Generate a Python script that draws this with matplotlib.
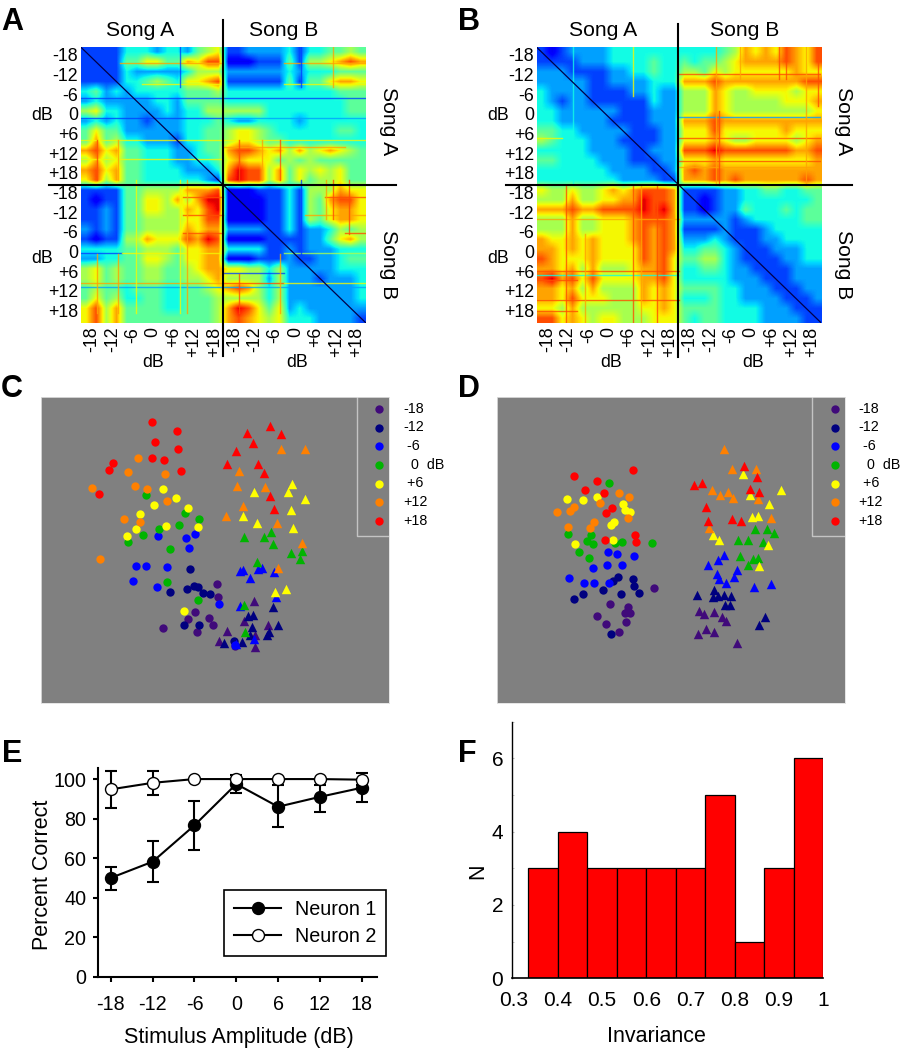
import numpy as np
import matplotlib
matplotlib.use('Agg')
from matplotlib import pyplot as plt
from matplotlib.lines import Line2D

plt.rcParams['font.family'] = ['Liberation Sans', 'DejaVu Sans']

W, H = 911, 1050

# similarity matrices, read by eye, one digit per cell (0 = low, 9 = high)
matrix_a = [
    '11113332332456' + '11222231334454',
    '11114466447688' + '00011141556787',
    '11113222223555' + '22222232333444',
    '11113345436678' + '11111141446776',
    '34232333334445' + '33333333333444',
    '23222223324444' + '33333333333344',
    '56332222323355' + '55553333333344',
    '23232212223334' + '32233332333333',
    '46442222223344' + '56654333333443',
    '47453322213344' + '56654433333333',
    '78674433322344' + '78876757567654',
    '57564433322334' + '67666454544444',
    '78674433332223' + '79885746565644',
    '68574433333321' + '89885746455644',
    '11114455557778' + '00011131555766',
    '10114466575799' + '00001131547886',
    '11214466557689' + '00001131546776',
    '11214455556688' + '00001131546776',
    '21214455557677' + '22221131223545',
    '10115576668798' + '00001111224675',
    '33334455546677' + '33331121222333',
    '22334466546677' + '00011121122344',
    '56454455445677' + '66553522222333',
    '56454455445567' + '55552522212223',
    '45443444334456' + '78753522222223',
    '46453344334445' + '55553522222223',
    '68574444334445' + '79864623222222',
    '68574444444445' + '78765633322221',
]
matrix_b = [
    '10122223333333' + '33334576768768',
    '11112223333433' + '43445677778768',
    '22211112233433' + '55465666666766',
    '22222112222333' + '77787777777788',
    '32222111122322' + '55576556666566',
    '32122111111322' + '55576555556667',
    '33222222111222' + '55576555555556',
    '33222221111222' + '77787777777777',
    '44332222211122' + '66686666667666',
    '54333222111122' + '66676556666567',
    '33333222211222' + '88898888888778',
    '44333322211122' + '66676666666667',
    '33333332222112' + '78787777777777',
    '33333333222211' + '77787877777787',
    '65565567678887' + '11112233443344',
    '55575566779887' + '11012233333334',
    '77787788889897' + '11012243334344',
    '55575566678887' + '22222123333344',
    '55575566678787' + '11112111233333',
    '76676766678787' + '22232111223333',
    '77676766668787' + '33443211122233',
    '87666766668786' + '44553211112233',
    '77675755567786' + '33443221111222',
    '89786866667786' + '33333222111222',
    '77675755557676' + '44443322211122',
    '77686665557676' + '33343322221112',
    '66575555556676' + '44443333222111',
    '88676566555666' + '43443333222211',
]

# thin streaks in the matrices: (position, start, stop, digit), in cells
a_rows = [
    (1.6, 3.8, 14, 7), (1.6, 20, 28, 7), (3.7, 6, 14, 6), (3.7, 20, 28, 6),
    (5.2, 0, 28, 1), (7.2, 0, 14, 1), (7.2, 14, 28, 2), (9.4, 0, 28, 6),
    (11.4, 0, 14, 6), (10.1, 14, 26, 7), (15.2, 10, 14, 8), (15.2, 24, 28, 8),
    (17.1, 10, 14, 8), (17.1, 22, 28, 7), (18.9, 10, 14, 8), (18.9, 26, 28, 8),
    (20.9, 0, 4, 1), (20.9, 4, 14, 6), (20.9, 20, 28, 5), (22.9, 14, 20, 1),
    (24.0, 0, 14, 7), (24.0, 14, 20, 8), (24.0, 20, 28, 6), (24.4, 0, 28, 2),
]
a_cols = [
    (1.6, 9.4, 13.5, 8), (1.6, 21, 27, 7), (3.6, 9.4, 13.5, 7), (3.6, 21, 27, 7),
    (5.4, 13.5, 27, 6), (9.7, 0, 4, 1), (9.7, 13.5, 27, 6), (10.4, 13.5, 27, 7),
    (24.8, 0, 4, 7), (24.8, 13.5, 17.5, 8), (24.1, 13.5, 17.5, 7), (26.4, 13.5, 19, 8),
    (21.6, 0, 4, 1), (21.6, 13.5, 21, 1), (15.5, 9.4, 13.5, 8), (15.5, 23, 27, 8),
    (17.8, 9.4, 13.5, 7), (19.6, 9.4, 13.5, 8), (19.6, 21, 27, 7),
]
b_rows = [
    (2.7, 14, 28, 8), (7.1, 14, 28, 2), (9.2, 14, 28, 8), (11.6, 14, 28, 8),
    (12.2, 14, 28, 7), (9.2, 0, 2.5, 6), (17.5, 0, 14, 7), (22.7, 0, 14, 8),
    (23.2, 0, 14, 3), (23.7, 0, 4, 8), (25.7, 0, 14, 8), (26.8, 0, 4, 8),
]
b_cols = [
    (2.85, 14, 28, 8), (4.75, 19, 28, 7), (9.45, 14, 28, 8), (9.45, 0, 5, 6),
    (11.8, 14, 28, 8), (10.3, 14, 28, 7), (17.7, 0, 14, 7), (18.0, 6.5, 14, 8),
    (23.9, 0, 3.2, 8), (24.6, 0, 3.2, 8), (26.5, 0, 14, 7), (27.7, 0, 6, 8),
    (20.0, 0, 3.2, 7), (3.6, 0, 14, 3),
]

amp_labels = ['-18', '-12', '-6', '0', '+6', '+12', '+18']

level_colors = ['#400a7a', '#00007f', '#0000ff', '#00b400', '#ffff00', '#ff8000', '#ff0000']
level_names = ['-18', '-12', ' -6', '  0  dB', ' +6', '+12', '+18']

# scatter panel C, one (x, y) list per level
c_circles = [
    [(561, 597), (565, 637), (494, 683), (474, 702), (536, 699), (549, 722), (500, 743), (400, 729), (616, 783)],
    [(480, 552), (470, 612), (492, 605), (505, 607), (520, 626), (539, 629), (419, 621), (461, 720), (506, 721), (612, 769)],
    [(383, 454), (469, 460), (495, 446), (476, 489), (319, 543), (347, 543), (411, 546), (308, 588), (380, 608), (568, 657), (616, 780)],
    [(347, 331), (464, 384), (508, 403), (448, 420), (388, 432), (338, 449), (293, 470), (421, 491), (411, 592), (504, 646)],
    [(400, 313), (437, 340), (371, 359), (330, 387), (475, 369), (407, 423), (503, 425), (317, 433), (292, 452), (461, 678)],
    [(323, 218), (293, 262), (405, 268), (187, 308), (314, 304), (351, 312), (410, 349), (281, 402), (331, 411), (209, 522)],
    [(365, 110), (442, 138), (374, 172), (443, 191), (365, 218), (402, 226), (249, 235), (238, 255), (452, 258), (208, 328)],
]
c_triangles = [
    [(672, 650), (641, 710), (713, 720), (592, 740), (567, 770), (675, 752), (676, 788)],
    [(728, 666), (654, 694), (670, 690), (665, 728), (744, 722), (717, 741), (710, 750), (660, 750), (582, 776), (635, 772)],
    [(630, 560), (640, 557), (683, 553), (697, 550), (733, 562), (659, 580), (737, 636), (630, 663), (673, 762), (617, 778)],
    [(642, 456), (703, 456), (724, 440), (730, 478), (782, 505), (817, 499), (810, 521), (681, 532), (643, 660), (645, 741)],
    [(786, 298), (773, 321), (671, 320), (825, 342), (783, 375), (638, 394), (680, 414), (789, 430), (735, 621), (768, 612)],
    [(752, 191), (825, 191), (627, 258), (622, 302), (706, 305), (640, 362), (587, 394), (742, 415), (817, 473), (743, 551)],
    [(719, 122), (652, 143), (754, 148), (668, 174), (618, 198), (591, 236), (685, 237), (701, 264), (720, 332), (731, 373)],
]
# scatter panel D
d_circles = [
    [(493, 610), (361, 658), (414, 666), (405, 685), (421, 686), (412, 683), (322, 695), (349, 718), (408, 712), (387, 741)],
    [(385, 576), (370, 589), (429, 582), (433, 603), (448, 624), (339, 616), (394, 629), (279, 627), (251, 643), (364, 748)],
    [(353, 501), (381, 507), (432, 512), (350, 540), (397, 540), (309, 550), (236, 581), (282, 594), (311, 594), (358, 596)],
    [(356, 294), (235, 448), (304, 449), (291, 468), (308, 478), (374, 473), (396, 471), (487, 474), (268, 501), (298, 520)],
    [(231, 342), (279, 346), (322, 335), (400, 358), (404, 376), (420, 380), (373, 410), (362, 420), (256, 477), (370, 465)],
    [(388, 323), (417, 337), (330, 353), (253, 365), (241, 379), (201, 382), (413, 400), (311, 411), (300, 430), (234, 426)],
    [(429, 255), (252, 273), (322, 287), (286, 315), (342, 325), (366, 369), (349, 384), (434, 451), (437, 471), (344, 465)],
]
d_triangles = [
    [(627, 680), (643, 688), (671, 683), (697, 698), (707, 710), (648, 733), (672, 741), (623, 748), (741, 776)],
    [(672, 615), (622, 630), (669, 638), (683, 634), (702, 630), (722, 634), (704, 660), (721, 662), (825, 698), (808, 720)],
    [(701, 510), (685, 525), (654, 541), (741, 556), (681, 569), (733, 578), (687, 583), (707, 595), (792, 607), (843, 598)],
    [(795, 431), (831, 432), (853, 444), (745, 466), (775, 465), (818, 472), (749, 514), (790, 523), (804, 520), (773, 541)],
    [(758, 268), (874, 315), (779, 330), (836, 356), (786, 397), (805, 393), (669, 449), (687, 464), (835, 480), (808, 545)],
    [(701, 192), (726, 252), (797, 252), (666, 316), (690, 331), (713, 321), (730, 339), (804, 342), (844, 398), (658, 430)],
    [(762, 242), (800, 277), (611, 301), (637, 294), (781, 313), (807, 322), (648, 367), (727, 402), (752, 407), (653, 409)],
]

# panel E
amplitude = [-18, -12, -6, 0, 6, 12, 18]
amp_ticks = ['-18', '-12', '-6', '0', '6', '12', '18']
neuron1 = [50, 58.2, 76.6, 97.5, 86, 91, 95.6]
neuron1_low = [43.8, 47.9, 64.2, 93, 75.5, 83.5, 88.5]
neuron1_high = [55.3, 68.5, 89, 100, 96.8, 97, 100]
neuron2 = [94.8, 98.1, 100, 100, 100, 100, 99.7]
neuron2_low = [85.5, 91.9, 100, 97, 100, 100, 97]
neuron2_high = [104.2, 104, 100, 102, 100, 100, 102.9]

# panel F
bin_edges = [0.3333, 0.4, 0.4667, 0.5333, 0.6, 0.6667, 0.7333, 0.8, 0.8667, 0.9333]
bin_counts = [3, 4, 3, 3, 3, 3, 5, 1, 3, 6]
bin_width = 0.0667
inv_ticks = [0.3, 0.4, 0.5, 0.6, 0.7, 0.8, 0.9, 1.0]
inv_labels = ['0.3', '0.4', '0.5', '0.6', '0.7', '0.8', '0.9', '1']


def add_ax(fig, x0, y0, x1, y1):
    # pixel box, y measured from the top of the image
    return fig.add_axes([x0 / W, 1 - y1 / H, (x1 - x0) / W, (y1 - y0) / H])


def px_text(fig, x, y, s, **kw):
    kw.setdefault('ha', 'center')
    kw.setdefault('va', 'center')
    fig.text(x / W, 1 - y / H, s, **kw)


def px_line(fig, xs, ys, **kw):
    fig.add_artist(Line2D([x / W for x in xs], [1 - y / H for y in ys],
                          color='k', lw=1.5, **kw))


def draw_matrix(fig, rows, row_streaks, col_streaks, x0, x1, cross_x, top_y, bottom_y,
                left_x, right_x, title_x, db_x):
    ax = add_ax(fig, x0, 47.3, x1, 322.7)
    data = np.array([[int(c) for c in r] for r in rows])
    im = ax.imshow(data, cmap='jet', vmin=-1.1, vmax=9.9, aspect='auto',
                   interpolation='bilinear', extent=(0, 28, 28, 0))
    for pos, start, stop, v in row_streaks:
        ax.plot([start, stop], [pos, pos], color=im.cmap(im.norm(v)), lw=1.0, alpha=0.8)
    for pos, start, stop, v in col_streaks:
        ax.plot([pos, pos], [start, stop], color=im.cmap(im.norm(v)), lw=1.0, alpha=0.8)
    ax.plot([0, 28], [0, 28], color='#00004a', lw=0.9)
    ax.set_xlim(0, 28)
    ax.set_ylim(28, 0)
    for s in ax.spines.values():
        s.set_visible(False)
    ax.set_yticks([0.75 + 2 * i for i in range(7)] + [14.75 + 2 * i for i in range(7)])
    ax.set_yticklabels(amp_labels + amp_labels, fontsize=12.8)
    ax.set_xticks([1.1 + 2 * i for i in range(14)])
    ax.set_xticklabels(amp_labels + amp_labels, fontsize=12.8, rotation=90)
    ax.tick_params(length=0, pad=2)
    ax.tick_params(axis='x', pad=3)
    px_line(fig, [cross_x, cross_x], [top_y, bottom_y])
    px_line(fig, [left_x, right_x], [185, 185])
    for y in (116, 258):
        px_text(fig, x0 - 39, y, 'dB', fontsize=12.8)
    px_text(fig, title_x[0], 31, 'Song A', fontsize=15.2)
    px_text(fig, title_x[1], 31, 'Song B', fontsize=15.2)
    px_text(fig, x1 + 22.5, 121, 'Song A', fontsize=15.2, rotation=-90)
    px_text(fig, x1 + 22.5, 265, 'Song B', fontsize=15.2, rotation=-90)
    px_text(fig, db_x[0], 363, 'dB', fontsize=12.8)
    px_text(fig, db_x[1], 363, 'dB', fontsize=12.8)


def draw_scatter(fig, circles, triangles, x0, x1, xmin, xmax, legend_x):
    ax = add_ax(fig, x0, 396.7, x1, 703)
    ax.set_facecolor('#808080')
    ax.set_xlim(xmin, xmax)
    ax.set_ylim(955, 35)
    ax.set_xticks([])
    ax.set_yticks([])
    for s in ax.spines.values():
        s.set_color('#e0e0e0')
        s.set_linewidth(0.6)
    handles = []
    for i in range(7):
        xy = np.array(circles[i])
        h = ax.scatter(xy[:, 0], xy[:, 1], s=36, color=level_colors[i],
                       linewidths=0, zorder=3 + i, label=level_names[i])
        handles.append(h)
        xy = np.array(triangles[i])
        ax.scatter(xy[:, 0], xy[:, 1], s=46, marker='^', color=level_colors[i],
                   linewidths=0, zorder=3 + i)
    box_left = (legend_x - x0) / (x1 - x0)
    box_bottom = (703 - 536) / (703 - 396.7)
    ax.plot([box_left, box_left, 1], [1, box_bottom, box_bottom], color='#c4c4c4',
            lw=1.0, transform=ax.transAxes)
    ax.legend(handles=handles, loc='upper left', frameon=False, fontsize=10.3,
              bbox_to_anchor=((legend_x + 4 - x0) / (x1 - x0), 1.0), borderaxespad=0,
              borderpad=0.35, labelspacing=0.325, handletextpad=0.7, handlelength=1.9,
              scatterpoints=1)


fig = plt.figure(figsize=(W / 100, H / 100), dpi=100, facecolor='white')

draw_matrix(fig, matrix_a, a_rows, a_cols, 81, 365.7, 223.3, 20, 356, 49, 396, (140, 284), (153, 297))
draw_matrix(fig, matrix_b, b_rows, b_cols, 536.7, 821, 678, 24, 357, 506, 851.7, (602.7, 745), (611, 753))
draw_scatter(fig, c_circles, c_triangles, 41, 389.3, 33, 1078, 356.7)
draw_scatter(fig, d_circles, d_triangles, 496.7, 845, 20, 1065, 812.3)

# panel E
ax = add_ax(fig, 98.3, 768, 376.7, 976.7)
ax.set_xlim(-19.8, 20.15)
ax.set_ylim(0, 105.6)
for low, high, mean in ((neuron1_low, neuron1_high, neuron1), (neuron2_low, neuron2_high, neuron2)):
    yerr = [np.array(mean) - np.array(low), np.array(high) - np.array(mean)]
    ax.errorbar(amplitude, mean, yerr=yerr, fmt='none', ecolor='k', elinewidth=1.5,
                capsize=4.2, capthick=1.5, clip_on=False, zorder=2)
ax.plot(amplitude, neuron1, '-o', color='k', lw=1.5, ms=8.6, mfc='k', mec='k',
        clip_on=False, zorder=3, label='Neuron 1')
ax.plot(amplitude, neuron2, '-o', color='k', lw=1.5, ms=8.6, mfc='white', mec='k', mew=1.0,
        clip_on=False, zorder=4, label='Neuron 2')
ax.spines['top'].set_visible(False)
ax.spines['right'].set_visible(False)
ax.spines['left'].set_linewidth(1.5)
ax.spines['bottom'].set_linewidth(1.5)
ax.set_xticks(amplitude)
ax.set_xticklabels(amp_ticks)
ax.set_yticks([0, 20, 40, 60, 80, 100])
ax.tick_params(labelsize=14.2, width=1.5, length=3.5, pad=5)
ax.tick_params(axis='x', pad=10)
leg = ax.legend(loc='lower right', bbox_to_anchor=(1.035, 0.1), borderaxespad=0,
                fontsize=14.2, fancybox=False, framealpha=1, edgecolor='k',
                handlelength=2.4, borderpad=0.5, labelspacing=0.42, handletextpad=0.7)
leg.get_frame().set_linewidth(1.2)
px_text(fig, 238.5, 1037, 'Stimulus Amplitude (dB)', fontsize=15.5)
px_text(fig, 42.5, 875, 'Percent Correct', fontsize=15.5, rotation=90)

# panel F
ax = add_ax(fig, 511.7, 721.7, 823.3, 978.3)
ax.bar(bin_edges, bin_counts, width=bin_width, align='edge', color='#ff0000',
       edgecolor='k', linewidth=0.9)
ax.set_xlim(0.2955, 1.0)
ax.set_ylim(0, 7)
ax.spines['top'].set_visible(False)
ax.spines['right'].set_visible(False)
ax.spines['left'].set_linewidth(1.0)
ax.spines['bottom'].set_linewidth(1.2)
ax.set_xticks(inv_ticks)
ax.set_xticklabels(inv_labels)
ax.set_yticks([0, 2, 4, 6])
ax.set_yticks([1, 3, 5, 7], minor=True)
ax.tick_params(labelsize=15, length=0)
ax.tick_params(axis='x', pad=9)
ax.tick_params(axis='y', which='major', pad=6, direction='in', length=1.5, color='#bbbbbb')
ax.tick_params(axis='y', which='minor', direction='in', length=1.5, color='#bbbbbb')
px_text(fig, 656, 1037, 'Invariance', fontsize=15.5)
px_text(fig, 478, 871, 'N', fontsize=15.5, rotation=90)

for letter, x, y in (('A', 1, 30), ('B', 458, 30), ('C', 1, 397), ('D', 458, 397), ('E', 2, 762), ('F', 458, 762)):
    px_text(fig, x, y, letter, fontsize=22, fontweight='bold', ha='left', va='baseline')

fig.savefig('out.png', dpi=100)
